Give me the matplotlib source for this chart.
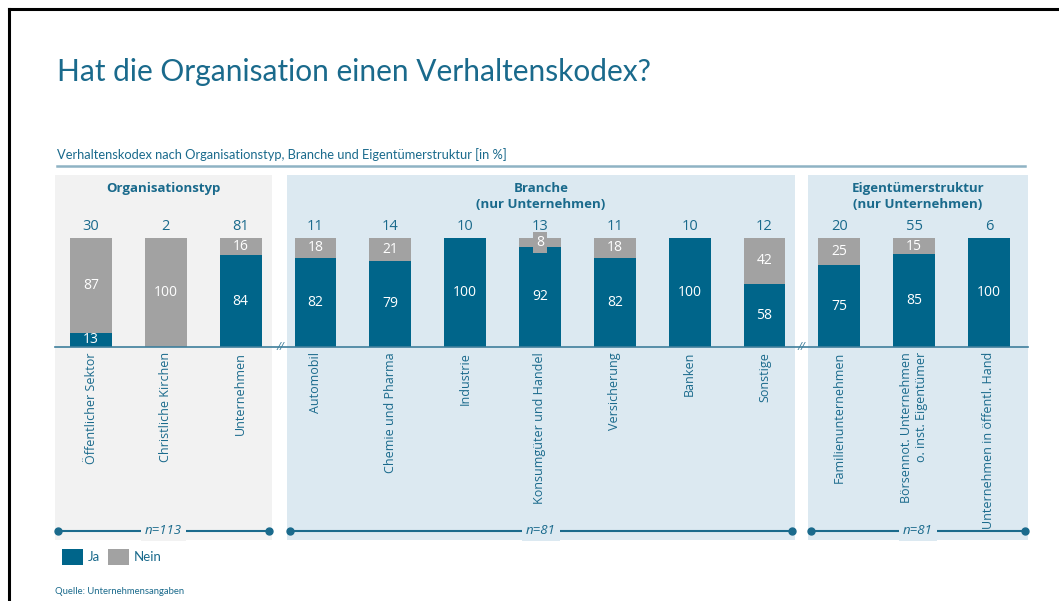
import matplotlib
matplotlib.use("Agg")
import matplotlib.pyplot as plt
from matplotlib.patches import Patch, Rectangle
from matplotlib.lines import Line2D

# data
categories = ["Öffentlicher Sektor", "Christliche Kirchen", "Unternehmen",
              "Automobil", "Chemie und Pharma", "Industrie", "Konsumgüter und Handel",
              "Versicherung", "Banken", "Sonstige",
              "Familienunternehmen", "Börsennot. Unternehmen\no. inst. Eigentümer",
              "Unternehmen in öffentl. Hand"]
ja = [13, 0, 84, 82, 79, 100, 92, 82, 100, 58, 75, 85, 100]
nein = [87, 100, 16, 18, 21, 0, 8, 18, 0, 42, 25, 15, 0]
counts = [30, 2, 81, 11, 14, 10, 13, 11, 10, 12, 20, 55, 6]
group_titles = ["Organisationstyp", "Branche\n(nur Unternehmen)", "Eigentümerstruktur\n(nur Unternehmen)"]
group_members = [[0, 1, 2], [3, 4, 5, 6, 7, 8, 9], [10, 11, 12]]
group_n = ["n=113", "n=81", "n=81"]

TEAL = "#1a6a8c"
JA_COL = "#00658a"
NEIN_COL = "#a2a2a2"
PANEL_COLS = ["#f2f2f2", "#dce9f1", "#dce9f1"]
FONT = "Open Sans"

W, H = 1059, 601
fig = plt.figure(figsize=(W / 100, H / 100), dpi=100)
ax = fig.add_axes([0, 0, 1, 1])

# pixel helpers: bars sit 74.83 px apart starting at x=91, baseline at y=347, 100% = 109 px
def px(x):
    return (x - 91) / 74.83

def py(y):
    return (347 - y) / 1.09

ax.set_xlim(px(0), px(W))
ax.set_ylim(py(H), py(0))
ax.axis("off")

# panels
panel_edges = [(55, 272), (287, 795), (808, 1028)]
for (l, r), c in zip(panel_edges, PANEL_COLS):
    ax.add_patch(Rectangle((px(l), py(540)), px(r) - px(l), py(175) - py(540),
                           facecolor=c, edgecolor="none", zorder=0))

x = list(range(len(categories)))
ax.bar(x, ja, width=0.56, color=JA_COL, zorder=2)
ax.bar(x, nein, bottom=ja, width=0.56, color=NEIN_COL, zorder=2)

# values inside bars
for i in x:
    for bottom, val, col in ((0, ja[i], JA_COL), (ja[i], nein[i], NEIN_COL)):
        if val == 0:
            continue
        box = None
        if val < 10:
            box = dict(boxstyle="square,pad=0.2", facecolor=col, edgecolor="none")
        ax.text(i, bottom + val / 2, str(val), ha="center", va="center", color="white",
                fontsize=10, family=FONT, zorder=3, bbox=box)
    ax.text(i, py(226), str(counts[i]), ha="center", va="center", color=TEAL,
            fontsize=10.5, family=FONT)
    ax.text(i, py(352), categories[i], rotation=90, ha="center", va="top",
            multialignment="right", color=TEAL, fontsize=9, family=FONT)

# baseline with breaks
ax.plot([px(55), px(1028)], [0, 0], color="#3f7f9c", lw=1.2, zorder=3)
for bx in (280, 801):
    ax.text(px(bx), 0, "//", ha="center", va="center", color="#3f7f9c",
            fontsize=8, family=FONT, style="italic", zorder=4)

# group headers and n lines
for (l, r), title, n, c in zip(panel_edges, group_titles, group_n, PANEL_COLS):
    cx = (px(l) + px(r)) / 2
    ax.text(cx, py(182), title, ha="center", va="top", color=TEAL, fontsize=9.5,
            fontweight="bold", family=FONT, linespacing=1.25)
    ax.plot([px(l + 3), px(r - 3)], [py(531), py(531)], color=TEAL, lw=1.5,
            marker="o", markersize=5, markevery=[0, 1], zorder=2)
    ax.text(cx, py(531), n, ha="center", va="center", color=TEAL, fontsize=9.5,
            style="italic", family=FONT, zorder=3,
            bbox=dict(boxstyle="square,pad=0.3", facecolor=c, edgecolor="none"))

# title, subtitle, rule
fig.text(57 / W, 1 - 72 / H, "Hat die Organisation einen Verhaltenskodex?", ha="left",
         va="center", color=TEAL, fontsize=21.5, family="Lato")
fig.text(57 / W, 1 - 155 / H,
         "Verhaltenskodex nach Organisationstyp, Branche und Eigentümerstruktur [in %]",
         ha="left", va="center", color=TEAL, fontsize=9.3, family="Lato")
fig.add_artist(Line2D([57 / W, 1025 / W], [1 - 166 / H, 1 - 166 / H], color="#8fb3c4", lw=1.8))

# frame lines at top and left
fig.add_artist(Line2D([9 / W, 1], [1 - 9 / H, 1 - 9 / H], color="black", lw=2.2))
fig.add_artist(Line2D([9 / W, 9 / W], [0, 1 - 9 / H], color="black", lw=2.2))

# legend
handles = [Patch(facecolor=JA_COL, label="Ja"), Patch(facecolor=NEIN_COL, label="Nein")]
leg = fig.legend(handles=handles, loc="center left", bbox_to_anchor=(57 / W, 1 - 557 / H),
                 ncol=2, frameon=False, handlelength=1.6, handleheight=1.5,
                 handletextpad=0.35, columnspacing=0.6, borderaxespad=0,
                 prop={"family": "Lato", "size": 9.5})
for t in leg.get_texts():
    t.set_color(TEAL)

fig.text(55 / W, 1 - 591 / H, "Quelle: Unternehmensangaben", ha="left", va="center",
         color=TEAL, fontsize=6.8, family="Lato")

fig.savefig("out.png", dpi=100)
